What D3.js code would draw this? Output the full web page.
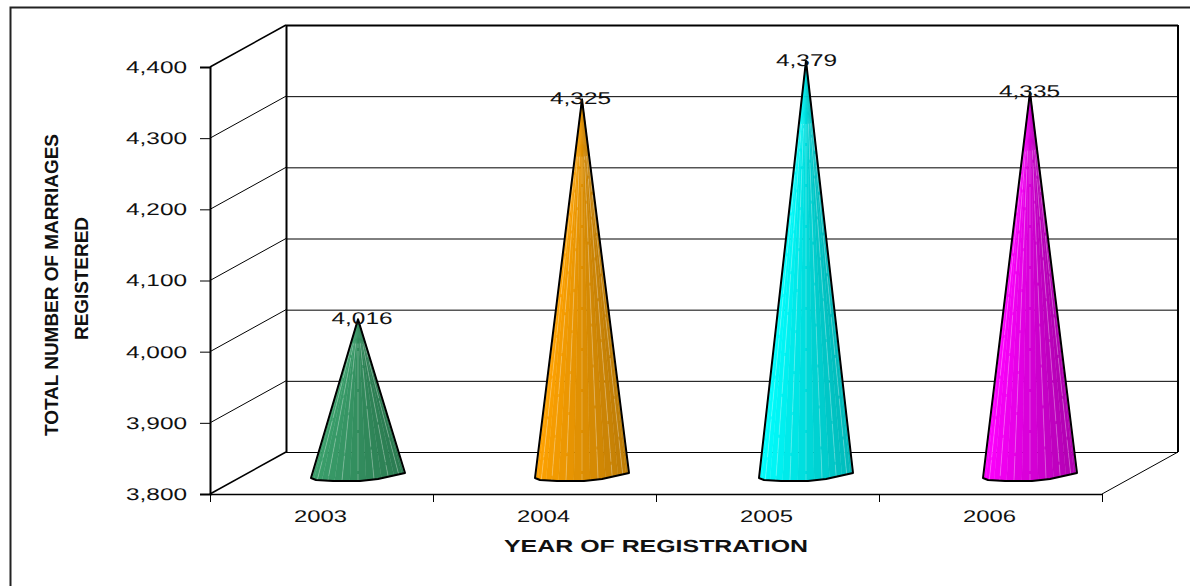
<!DOCTYPE html>
<html>
<head>
<meta charset="utf-8">
<script src="https://cdn.jsdelivr.net/npm/d3@7"></script>
<style>
  html, body { margin: 0; padding: 0; background: #fff; }
  svg { display: block; }
  text { font-family: "Liberation Sans", Arial, sans-serif; fill: #111; text-rendering: geometricPrecision; }
</style>
</head>
<body>
<div id="graph"></div>
<script>
const years = ["2003", "2004", "2005", "2006"];
const marriages = [4016, 4325, 4379, 4335];
const yTicks = [3800, 3900, 4000, 4100, 4200, 4300, 4400];
const yTitleLines = ["TOTAL NUMBER OF MARRIAGES", "REGISTERED"];
const xTitle = "YEAR OF REGISTRATION";

// light side / dark side of each cone
const lightColors = ["#3ba06c", "#ffa200", "#00ffff", "#ff00ff"];
const darkColors = ["#2a7a50", "#bd7c06", "#00b8b8", "#ae00ae"];

const width = 1190;
const height = 586;
const depthX = 76;
const depthY = 42;
const plotLeft = 210;
const plotRight = 1102;
const plotBottom = 494;
const plotTop = 67;
const coneRadius = 47;

// bottom rim of a cone, offset from the centre of its base
const rimX = [-47, -42, -25, 2, 20, 47];
const rimY = [5, 7, 8, 8, 6, 0];
const rim = d3.scaleLinear().domain(rimX).range(rimY);

// the value labels don't sit quite centred on the tips
const labelShift = [4, -1.5, 0.5, -0.5];

const yScale = d3.scaleLinear().domain([3800, 4400]).range([plotBottom, plotTop]);
const xBand = d3.scaleBand().domain(years).range([plotLeft, plotRight]);
const xEdges = d3.scaleLinear().domain([0, years.length]).range([plotLeft, plotRight]);
const coneX = d3.scalePoint().domain(years).range([358, 1030]);

const svg = d3.select("#graph").append("svg")
    .attr("width", width)
    .attr("height", height);

// outer frame, runs off the page on the right and at the bottom
svg.append("path")
    .attr("d", "M1190,7.5H10.5V586")
    .attr("fill", "none")
    .attr("stroke", "#222")
    .attr("stroke-width", 2);

// back wall + side wall gridlines
const grid = svg.append("g").attr("stroke", "#000").attr("fill", "none");

grid.selectAll("line.back")
    .data(yTicks)
    .enter().append("line")
    .attr("class", "back")
    .attr("x1", plotLeft + depthX)
    .attr("x2", plotRight + depthX)
    .attr("y1", (d) => yScale(d) - depthY + 0.5)
    .attr("y2", (d) => yScale(d) - depthY + 0.5)
    .attr("stroke-width", (d) => (d === 4400 ? 2 : 1));

grid.selectAll("line.side")
    .data(yTicks)
    .enter().append("line")
    .attr("class", "side")
    .attr("x1", plotLeft)
    .attr("x2", plotLeft + depthX)
    .attr("y1", (d) => yScale(d))
    .attr("y2", (d) => yScale(d) - depthY)
    .attr("stroke-width", (d) => (d === 4400 || d === 3800 ? 1.6 : 1));

grid.append("line")
    .attr("x1", plotLeft + depthX + 0.5).attr("x2", plotLeft + depthX + 0.5)
    .attr("y1", yScale(4400) - depthY).attr("y2", yScale(3800) - depthY)
    .attr("stroke-width", 2);
grid.append("line")
    .attr("x1", plotRight + depthX).attr("x2", plotRight + depthX)
    .attr("y1", yScale(4400) - depthY).attr("y2", yScale(3800) - depthY)
    .attr("stroke-width", 2);
grid.append("line")
    .attr("x1", plotRight).attr("x2", plotRight + depthX)
    .attr("y1", yScale(3800)).attr("y2", yScale(3800) - depthY)
    .attr("stroke-width", 1);

// cones
const coneLine = d3.line();
const cones = svg.selectAll("g.cone")
    .data(years)
    .enter().append("g")
    .attr("class", "cone");

cones.each(function (year, i) {
    const g = d3.select(this);
    const cx = coneX(year);
    const apexY = yScale(marriages[i]) - depthY / 2;
    const baseY = yScale(3800) - depthY / 2;
    const color = d3.interpolateRgb(lightColors[i], darkColors[i]);

    // split round the cone so the strips narrow towards the edges
    const steps = d3.range(0, 19).map((k) => -Math.cos(k / 18 * Math.PI) * coneRadius);
    const rimPoint = (dx) => [cx + dx, baseY + rim(dx)];

    d3.pairs(steps).forEach(([a, b]) => {
        const shade = color(((a + b) / 2 + coneRadius) / (2 * coneRadius));
        g.append("path")
            .attr("d", coneLine([[cx, apexY], rimPoint(a), rimPoint(b)]) + "Z")
            .attr("fill", shade)
            .attr("stroke", shade)
            .attr("stroke-width", 0.4);
    });

    // faint streaks from the rim up towards the tip
    steps.slice(1, -1).forEach((dx, k) => {
        if (k % 2 === 1) return;
        const p = rimPoint(dx);
        g.append("line")
            .attr("x1", p[0]).attr("y1", p[1])
            .attr("x2", cx + dx * 0.15).attr("y2", apexY + (p[1] - apexY) * 0.15)
            .attr("stroke", "#fff")
            .attr("stroke-opacity", 0.3)
            .attr("stroke-width", 0.9)
            .attr("stroke-dasharray", "38 3")
            .attr("stroke-dashoffset", k * 9);
    });

    const outline = [[cx, apexY]].concat(rimX.map(rimPoint));
    g.append("path")
        .attr("d", coneLine(outline) + "Z")
        .attr("fill", "none")
        .attr("stroke", "#000")
        .attr("stroke-width", 2)
        .attr("stroke-linejoin", "round");
});

// axes
const yAxis = d3.axisLeft(yScale)
    .tickValues(yTicks)
    .tickSize(10)
    .tickPadding(13)
    .tickFormat(d3.format(","));

const yAxisG = svg.append("g")
    .attr("transform", "translate(" + plotLeft + ",0)")
    .call(yAxis);
yAxisG.select(".domain").attr("stroke-width", 2).attr("stroke", "#000");
yAxisG.selectAll("text")
    .attr("font-size", 17)
    .attr("font-family", null)
    .attr("textLength", 61)
    .attr("lengthAdjust", "spacingAndGlyphs");

const xAxisEdges = d3.axisBottom(xEdges)
    .tickValues(d3.range(0, years.length + 1))
    .tickSize(8)
    .tickSizeOuter(0)
    .tickFormat("");
svg.append("g")
    .attr("transform", "translate(0," + plotBottom + ")")
    .call(xAxisEdges)
    .select(".domain").attr("stroke-width", 1.6);

const xAxisLabels = d3.axisBottom(xBand).tickSize(0).tickPadding(15.5);
const xAxisG = svg.append("g")
    .attr("transform", "translate(-1," + plotBottom + ")")
    .call(xAxisLabels);
xAxisG.select(".domain").remove();
xAxisG.selectAll("text")
    .attr("font-size", 17)
    .attr("font-family", null)
    .attr("textLength", 53)
    .attr("lengthAdjust", "spacingAndGlyphs");

// value labels
svg.selectAll("text.value")
    .data(marriages)
    .enter().append("text")
    .attr("class", "value")
    .attr("x", (d, i) => coneX(years[i]) + labelShift[i])
    .attr("y", (d) => yScale(d) - depthY / 2 + 5)
    .attr("text-anchor", "middle")
    .attr("font-size", 17)
    .attr("textLength", 61)
    .attr("lengthAdjust", "spacingAndGlyphs")
    .text((d) => d3.format(",")(d));

// titles
svg.append("text")
    .attr("x", 656)
    .attr("y", 552)
    .attr("text-anchor", "middle")
    .attr("font-size", 17.5)
    .attr("font-weight", "bold")
    .attr("textLength", 304)
    .attr("lengthAdjust", "spacingAndGlyphs")
    .text(xTitle);

// the wall title is squeezed in the original, its letters run together
const yTitleX = [58, 88];
const yTitleY = [285, 278.5];
const yTitleLen = [302, 123];
svg.selectAll("text.ytitle")
    .data(yTitleLines)
    .enter().append("text")
    .attr("class", "ytitle")
    .attr("transform", (d, i) => "translate(" + yTitleX[i] + "," + yTitleY[i] + ") rotate(-90)")
    .attr("text-anchor", "middle")
    .attr("font-size", 19)
    .attr("font-weight", "bold")
    .attr("textLength", (d, i) => yTitleLen[i])
    .attr("lengthAdjust", "spacing")
    .text((d) => d);
</script>
</body>
</html>
